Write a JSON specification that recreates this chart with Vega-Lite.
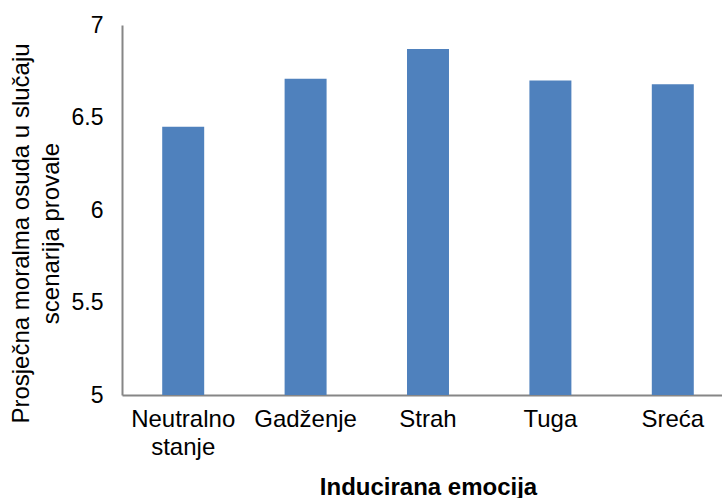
{
  "$schema": "https://vega.github.io/schema/vega-lite/v6.json",
  "autosize": {"type": "none"},
  "width": 612,
  "height": 370,
  "padding": {"left": 122, "top": 25, "right": 0, "bottom": 103},
  "background": "white",
  "config": {
    "view": {"stroke": null},
    "font": "Liberation Sans"
  },
  "data": {
    "values": [
      {"emocija": "Neutralno stanje", "osuda": 6.45},
      {"emocija": "Gadženje", "osuda": 6.71},
      {"emocija": "Strah", "osuda": 6.87},
      {"emocija": "Tuga", "osuda": 6.70},
      {"emocija": "Sreća", "osuda": 6.68}
    ]
  },
  "mark": {"type": "bar", "color": "#4F81BD", "clip": true},
  "encoding": {
    "x": {
      "field": "emocija",
      "type": "nominal",
      "sort": null,
      "scale": {"paddingInner": 0.657, "paddingOuter": 0.3285},
      "axis": {
        "title": "Inducirana emocija",
        "titleFontSize": 24,
        "titleFontWeight": "bold",
        "titleColor": "black",
        "titlePadding": 16,
        "labelAngle": 0,
        "labelFontSize": 24,
        "labelColor": "black",
        "labelPadding": 12,
        "labelLineHeight": 28,
        "labelExpr": "datum.label == 'Neutralno stanje' ? ['Neutralno', 'stanje'] : datum.label",
        "ticks": false,
        "domainColor": "#868686",
        "domainWidth": 2,
        "grid": false
      }
    },
    "y": {
      "field": "osuda",
      "type": "quantitative",
      "scale": {"domain": [5, 7], "zero": false, "nice": false},
      "axis": {
        "title": ["Prosječna moralma osuda u slučaju", "scenarija provale"],
        "titleFontSize": 24,
        "titleFontWeight": "normal",
        "titleColor": "black",
        "titleLineHeight": 30,
        "titlePadding": 8,
        "titleY": 208,
        "values": [5, 5.5, 6, 6.5, 7],
        "format": "~g",
        "labelFontSize": 23,
        "labelColor": "black",
        "labelPadding": 19,
        "ticks": false,
        "domainColor": "#868686",
        "domainWidth": 2,
        "grid": false
      }
    }
  }
}
